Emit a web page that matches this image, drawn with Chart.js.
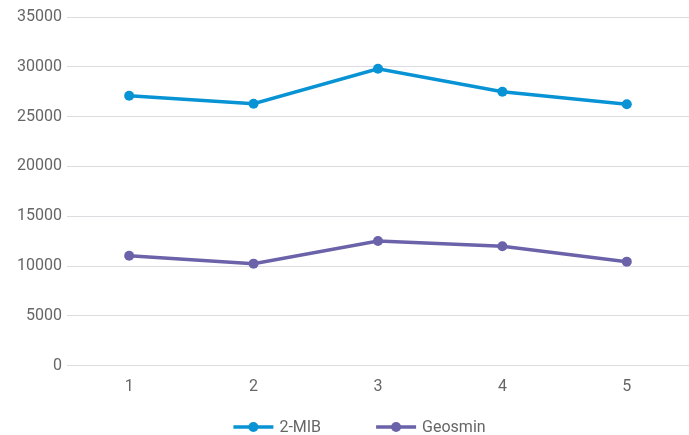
<!DOCTYPE html>
<html>
<head>
<meta charset="utf-8">
<script src="https://cdn.jsdelivr.net/npm/chart.js@4/dist/chart.umd.min.js"></script>
<style>
  html, body { margin: 0; padding: 0; background: #fff; overflow: hidden; }
  #wrap { width: 689px; height: 435px; position: relative; }
</style>
</head>
<body>
<div id="wrap"><canvas id="c"></canvas></div>
<script>
const categories = ['1', '2', '3', '4', '5'];
const mibValues = [27100, 26300, 29800, 27500, 26250];
const geosminValues = [11050, 10250, 12520, 12000, 10450];
const seriesNames = ['2-MIB', 'Geosmin'];
const seriesColors = ['#0893D5', '#6A63A9'];

const FONT = '16px Roboto, sans-serif';

// Bottom legend: short line with a dot, then the series name
const bottomLegend = {
  id: 'bottomLegend',
  afterDraw(chart) {
    const ctx = chart.ctx;
    ctx.save();
    ctx.font = FONT;
    ctx.textBaseline = 'middle';
    const markerW = 40, textGap = 6, itemGap = 55;
    const items = chart.data.datasets.map(ds => ({
      label: ds.label, color: ds.borderColor, w: ctx.measureText(ds.label).width
    }));
    const total = items.reduce((s, it) => s + markerW + textGap + it.w, 0) + itemGap * (items.length - 1);
    let x = chart.width / 2 + 15 - total / 2;
    const y = chart.height - 8;
    items.forEach(it => {
      ctx.strokeStyle = it.color;
      ctx.lineWidth = 3.5;
      ctx.beginPath(); ctx.moveTo(x, y); ctx.lineTo(x + markerW, y); ctx.stroke();
      ctx.fillStyle = it.color;
      ctx.beginPath(); ctx.arc(x + markerW / 2, y, 5, 0, Math.PI * 2); ctx.fill();
      ctx.fillStyle = '#666';
      ctx.fillText(it.label, x + markerW + textGap, y + 1);
      x += markerW + textGap + it.w + itemGap;
    });
    ctx.restore();
  }
};

Chart.defaults.font.family = 'Roboto, sans-serif';
Chart.defaults.font.size = 16;
Chart.defaults.color = '#666';

new Chart(document.getElementById('c'), {
  type: 'line',
  data: {
    labels: categories,
    datasets: [
      { label: seriesNames[0], data: mibValues, borderColor: seriesColors[0], backgroundColor: seriesColors[0] },
      { label: seriesNames[1], data: geosminValues, borderColor: seriesColors[1], backgroundColor: seriesColors[1] }
    ]
  },
  plugins: [bottomLegend],
  options: {
    responsive: true,
    maintainAspectRatio: false,
    animation: false,
    layout: { autoPadding: false, padding: { top: 17, right: 0, left: 12, bottom: 26 } },
    elements: {
      line: { borderWidth: 3.5, tension: 0 },
      point: { radius: 5, borderWidth: 0, hoverRadius: 5 }
    },
    scales: {
      x: {
        offset: true,
        grid: { display: false, drawTicks: false },
        border: { display: false },
        ticks: { padding: 12 },
        afterFit(scale) { scale.paddingLeft = 0; scale.paddingRight = 0; }
      },
      y: {
        min: 0, max: 35000,
        ticks: { stepSize: 5000, padding: 5, callback: v => String(v) },
        grid: { color: '#dcdce0', drawTicks: false },
        border: { display: false }
      }
    },
    plugins: {
      legend: { display: false },
      tooltip: { enabled: false }
    }
  }
});
</script>
</body>
</html>
